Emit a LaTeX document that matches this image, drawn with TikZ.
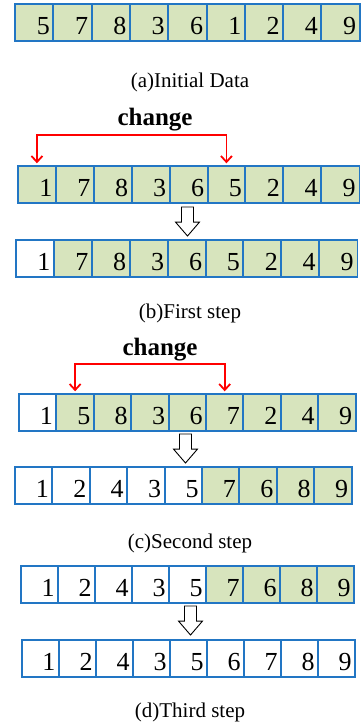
\documentclass[tikz,border=0pt]{standalone}
\usepackage{fontspec}
\setmainfont{Liberation Serif}
\usetikzlibrary{arrows.meta,calc}
\definecolor{cellblue}{RGB}{34,118,196}
\definecolor{cellgreen}{RGB}{215,228,189}
\definecolor{arrred}{RGB}{255,0,0}
\newcommand\cellrow[5]{%
  \foreach \v/\f [count=\i] in {#5} {%
    \node[cellbox, fill=\f, minimum width=#4pt, text width=#4pt-7pt]
      (#1\i) at ({#2+(\i-0.5)*#4}, {#3+18.5}) {\v};
  }%
  \foreach \i in {1,...,9} {%
    \draw[cellborder] (#1\i.south west) rectangle (#1\i.north east);
  }%
}
\newcommand\hollowdown[4]{% name, x center, y top, y tip
  \coordinate (#1) at (#2,#3);
  \draw[hollow] ($(#1)+(-6,0)$) -- ($(#1)+(6,0)$) -- ($(#1)+(6,{(#4-#3)*0.52})$)
    -- ($(#1)+(12,{(#4-#3)*0.52})$) -- ($(#1)+(0,{#4-#3})$)
    -- ($(#1)+(-12,{(#4-#3)*0.52})$) -- ($(#1)+(-6,{(#4-#3)*0.52})$) -- cycle;
}
\begin{document}
\begin{tikzpicture}[x=1pt,y=-1pt,
  cellbox/.style={rectangle, minimum height=37pt,
    inner xsep=3.5pt, inner ysep=0pt, align=right,
    text height=24.6pt, text depth=0pt,
    font=\fontsize{26}{28}\selectfont},
  cellborder/.style={draw=cellblue, line width=1.6pt},
  hollow/.style={draw=black, line width=0.9pt, fill=white},
  redbracket/.style={draw=arrred, line width=1.8pt, line join=miter,
    {Straight Barb[length=6pt,width=11pt,line width=1.8pt]}-{Straight Barb[length=6pt,width=11pt,line width=1.8pt]},
    shorten <=2.5pt, shorten >=2.5pt},
  caption/.style={font=\fontsize{21}{24}\selectfont, anchor=base, inner sep=0pt},
  changelbl/.style={font=\fontsize{25}{28}\selectfont\bfseries, anchor=base, inner sep=0pt}]
\useasboundingbox (0,0) rectangle (360,725);

% (a)
\cellrow{a}{15}{4}{38.3}{5/cellgreen,7/cellgreen,8/cellgreen,3/cellgreen,6/cellgreen,1/cellgreen,2/cellgreen,4/cellgreen,9/cellgreen}
\node[caption] (capa) at (190,87) {(a)Initial Data};

% (b)
\cellrow{b}{18}{166}{37.9}{1/cellgreen,7/cellgreen,8/cellgreen,3/cellgreen,6/cellgreen,5/cellgreen,2/cellgreen,4/cellgreen,9/cellgreen}
\node[changelbl] (chb) at (155,125) {change};
\draw[redbracket] (b1.north) -- ++(0,-31) -| (b6.north);
\hollowdown{arrb}{187.5}{207}{236}
\cellrow{bb}{16}{240}{37.9}{1/white,7/cellgreen,8/cellgreen,3/cellgreen,6/cellgreen,5/cellgreen,2/cellgreen,4/cellgreen,9/cellgreen}
\node[caption] (capb) at (190,318) {(b)First step};

% (c)
\node[changelbl] (chc) at (160,355) {change};
\cellrow{c}{19}{394}{37.4}{1/white,5/cellgreen,8/cellgreen,3/cellgreen,6/cellgreen,7/cellgreen,2/cellgreen,4/cellgreen,9/cellgreen}
\draw[redbracket] (c2.north) -- ++(0,-30) -| (c6.north);
\hollowdown{arrc}{185.5}{434}{463}
\cellrow{cc}{15}{467}{37.4}{1/white,2/white,4/white,3/white,5/white,7/cellgreen,6/cellgreen,8/cellgreen,9/cellgreen}
\node[caption] (capc) at (190,548) {(c)Second step};

% (d)
\cellrow{d}{21}{566}{37}{1/white,2/white,4/white,3/white,5/white,7/cellgreen,6/cellgreen,8/cellgreen,9/cellgreen}
\hollowdown{arrd}{190.5}{606}{635}
\cellrow{dd}{22}{640}{37}{1/white,2/white,4/white,3/white,5/white,6/white,7/white,8/white,9/white}
\node[caption] (capd) at (190,717) {(d)Third step};
\end{tikzpicture}
\end{document}
